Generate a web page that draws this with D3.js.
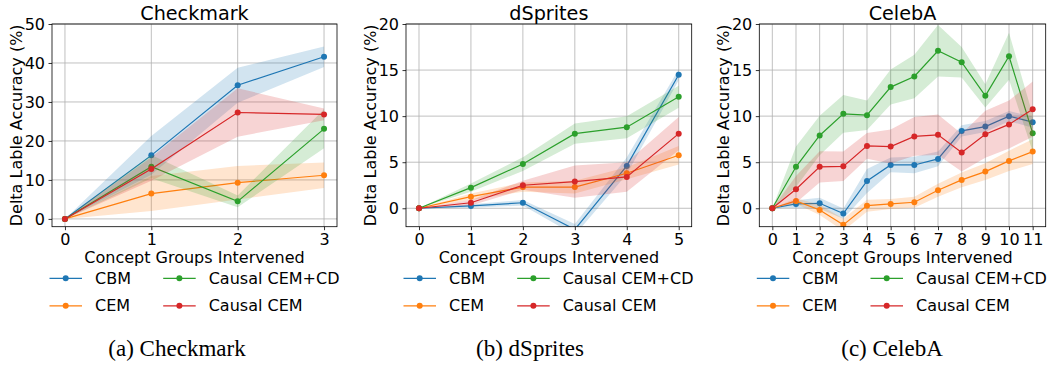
<!DOCTYPE html>
<html>
<head>
<meta charset="utf-8">
<script src="https://cdn.jsdelivr.net/npm/d3@7"></script>
<style>
  body { margin: 0; background: #fff; }
  svg { display: block; font-family: "DejaVu Sans", sans-serif; }
</style>
</head>
<body>
<div id="chart"></div>
<script>
/* series names and colours (matplotlib tab10) */
var seriesNames = ["CBM", "CEM", "Causal CEM+CD", "Causal CEM"];
var seriesColors = ["#1f77b4", "#ff7f0e", "#2ca02c", "#d62728"];

/* Checkmark */
var checkX = [0, 1, 2, 3];
var checkCBM = [0, 16.3, 34.3, 41.6];
var checkCBMsd = [0, 5.0, 4.5, 2.6];
var checkCEM = [0, 6.5, 9.3, 11.2];
var checkCEMsd = [0, 4.5, 4.3, 3.3];
var checkCD = [0, 13.4, 4.5, 23.1];
var checkCDsd = [0, 3.0, 1.5, 5.0];
var checkCausal = [0, 12.8, 27.3, 26.8];
var checkCausalsd = [0, 3.0, 6.2, 1.5];
var checkYTicks = [0, 10, 20, 30, 40, 50];

/* dSprites */
var dspX = [0, 1, 2, 3, 4, 5];
var dspCBM = [0, 0.25, 0.6, -2.3, 4.6, 14.5];
var dspCBMsd = [0, 0.2, 0.3, 0.6, 0.9, 0.6];
var dspCEM = [0, 1.26, 2.3, 2.3, 3.8, 5.76];
var dspCEMsd = [0, 0.35, 0.5, 0.7, 0.65, 1.0];
var dspCD = [0, 2.24, 4.8, 8.1, 8.8, 12.1];
var dspCDsd = [0, 0.45, 0.75, 1.1, 1.2, 1.2];
var dspCausal = [0, 0.6, 2.5, 2.9, 3.4, 8.1];
var dspCausalsd = [0, 0.3, 0.5, 1.75, 1.6, 1.8];
var dspYTicks = [0, 5, 10, 15, 20];

/* CelebA */
var celebX = [0, 1, 2, 3, 4, 5, 6, 7, 8, 9, 10, 11];
var celebCBM = [0, 0.47, 0.54, -0.58, 2.97, 4.7, 4.7, 5.36, 8.4, 8.87, 10.0, 9.35];
var celebCBMsd = [0, 0.4, 0.6, 0.55, 1.3, 0.8, 0.9, 0.8, 0.6, 0.6, 0.55, 0.6];
var celebCEM = [0, 0.8, -0.18, -1.8, 0.28, 0.47, 0.65, 1.96, 3.08, 3.98, 5.14, 6.15];
var celebCEMsd = [0, 0.3, 0.55, 0.65, 0.65, 0.55, 0.6, 0.7, 0.8, 0.9, 1.1, 1.35];
var celebCD = [0, 4.5, 7.9, 10.25, 10.1, 13.15, 14.3, 17.1, 15.85, 12.2, 16.5, 8.15];
var celebCDsd = [0, 2.2, 2.15, 2.05, 1.6, 1.9, 2.35, 2.8, 1.65, 1.25, 2.55, 2.0];
var celebCausal = [0, 2.06, 4.5, 4.55, 6.77, 6.7, 7.8, 7.97, 6.05, 8.04, 9.1, 10.75];
var celebCausalsd = [0, 1.45, 1.7, 1.6, 1.4, 1.85, 2.1, 2.2, 2.05, 2.55, 2.6, 3.0];
var celebYTicks = [0, 5, 10, 15, 20];

var captions = ["(a) Checkmark", "(b) dSprites", "(c) CelebA"];

var svg = d3.select("#chart").append("svg")
	.attr("width", 1050)
	.attr("height", 368);

var panels = [
	{ title: "Checkmark", caption: captions[0], x: checkX, yTicks: checkYTicks,
	  xDom: [-0.15, 3.15], yDom: [-2, 50], left: 52, right: 337, capX: 177,
	  means: [checkCBM, checkCEM, checkCD, checkCausal],
	  sds: [checkCBMsd, checkCEMsd, checkCDsd, checkCausalsd] },
	{ title: "dSprites", caption: captions[1], x: dspX, yTicks: dspYTicks,
	  xDom: [-0.25, 5.25], yDom: [-2, 20], left: 406, right: 691.7, capX: 530,
	  means: [dspCBM, dspCEM, dspCD, dspCausal],
	  sds: [dspCBMsd, dspCEMsd, dspCDsd, dspCausalsd] },
	{ title: "CelebA", caption: captions[2], x: celebX, yTicks: celebYTicks,
	  xDom: [-0.55, 11.55], yDom: [-2, 20], left: 759.3, right: 1045.7, capX: 892,
	  means: [celebCBM, celebCEM, celebCD, celebCausal],
	  sds: [celebCBMsd, celebCEMsd, celebCDsd, celebCausalsd] }
];

var plotTop = 24, plotBottom = 226.7;

panels.forEach(function(p, pi) {
	var x = d3.scaleLinear().domain(p.xDom).range([p.left, p.right]);
	var y = d3.scaleLinear().domain(p.yDom).range([plotBottom, plotTop]);
	var g = svg.append("g");

	/*clip*/
	var clipId = "clip" + pi;
	svg.append("clipPath").attr("id", clipId)
		.append("rect")
		.attr("x", p.left).attr("y", plotTop)
		.attr("width", p.right - p.left).attr("height", plotBottom - plotTop);

	/*grid*/
	g.selectAll(".gx").data(p.x).enter().append("line")
		.attr("x1", d => x(d)).attr("x2", d => x(d))
		.attr("y1", plotTop).attr("y2", plotBottom)
		.style("stroke", "#b0b0b0").style("stroke-width", 0.8);
	g.selectAll(".gy").data(p.yTicks).enter().append("line")
		.attr("x1", p.left).attr("x2", p.right)
		.attr("y1", d => y(d)).attr("y2", d => y(d))
		.style("stroke", "#b0b0b0").style("stroke-width", 0.8);

	/*data*/
	var plot = g.append("g").attr("clip-path", "url(#" + clipId + ")");
	var area = d3.area()
		.x(d => x(d.x)).y0(d => y(d.m - d.s)).y1(d => y(d.m + d.s));
	var line = d3.line().x(d => x(d.x)).y(d => y(d.m));

	p.means.forEach(function(m, si) {
		var pts = p.x.map(function(xv, i) { return { x: xv, m: m[i], s: p.sds[si][i] }; });
		plot.append("path").datum(pts)
			.attr("d", area)
			.style("fill", seriesColors[si])
			.style("fill-opacity", 0.2)
			.style("stroke", "none");
		plot.append("path").datum(pts)
			.attr("d", line)
			.style("fill", "none")
			.style("stroke", seriesColors[si])
			.style("stroke-width", 1.2);
		plot.selectAll(null).data(pts).enter().append("circle")
			.attr("cx", d => x(d.x)).attr("cy", d => y(d.m))
			.attr("r", 3)
			.style("fill", seriesColors[si]);
	});

	/*axes*/
	var xAxis = d3.axisBottom(x).tickValues(p.x).tickFormat(d3.format("d"))
		.tickSize(3.5).tickPadding(3.5);
	var yAxis = d3.axisLeft(y).tickValues(p.yTicks).tickFormat(d3.format("d"))
		.tickSize(3.5).tickPadding(3.5);
	var gx = g.append("g").attr("transform", "translate(0," + plotBottom + ")").call(xAxis);
	var gy = g.append("g").attr("transform", "translate(" + p.left + ",0)").call(yAxis);
	[gx, gy].forEach(function(a) {
		a.select(".domain").remove();
		a.selectAll("line").style("stroke", "#000").style("stroke-width", 0.8);
		a.selectAll("text").style("font-size", "16px").style("fill", "#000")
			.style("font-family", "DejaVu Sans");
	});
	gx.selectAll("text").attr("dy", "0.71em");

	/*frame*/
	g.append("rect")
		.attr("x", p.left).attr("y", plotTop)
		.attr("width", p.right - p.left).attr("height", plotBottom - plotTop)
		.style("fill", "none").style("stroke", "#000").style("stroke-width", 0.8);

	/*title and labels*/
	var cx = (p.left + p.right) / 2;
	g.append("text")
		.attr("x", cx).attr("y", 20)
		.attr("text-anchor", "middle")
		.style("font-size", "19.2px")
		.text(p.title);
	g.append("text")
		.attr("x", cx).attr("y", 263)
		.attr("text-anchor", "middle")
		.style("font-size", "16px")
		.text("Concept Groups Intervened");
	g.append("text")
		.attr("transform", "translate(" + (p.left - 30) + "," + ((plotTop + plotBottom) / 2) + ") rotate(-90)")
		.attr("text-anchor", "middle")
		.style("font-size", "16px")
		.text("Delta Lable Accuracy (%)");

	/*legend, two columns*/
	seriesNames.forEach(function(name, si) {
		var col = Math.floor(si / 2), row = si % 2;
		var lx = p.left - 2.5 + col * 113.7;
		var ly = 278.3 + row * 27.5;
		g.append("line")
			.attr("x1", lx).attr("x2", lx + 32.5)
			.attr("y1", ly).attr("y2", ly)
			.style("stroke", seriesColors[si]).style("stroke-width", 1.2);
		g.append("circle")
			.attr("cx", lx + 16.2).attr("cy", ly).attr("r", 3)
			.style("fill", seriesColors[si]);
		g.append("text")
			.attr("x", lx + 45.5).attr("y", ly).attr("dy", "0.35em")
			.style("font-size", "16px")
			.text(name);
	});

	/*caption*/
	svg.append("text")
		.attr("x", p.capX).attr("y", 356)
		.attr("text-anchor", "middle")
		.style("font-family", "Liberation Serif, serif")
		.style("font-size", "23px")
		.text(p.caption);
});
</script>
</body>
</html>
